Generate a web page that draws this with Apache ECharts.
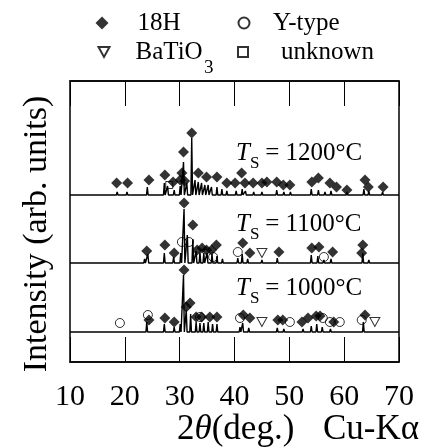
<!DOCTYPE html>
<html lang="en">
<head>
    <meta charset="UTF-8">
    <title>XRD patterns</title>
    <script src="https://cdn.jsdelivr.net/npm/echarts@6/dist/echarts.min.js"></script>
    <style>
        html, body {margin: 0; padding: 0; background: #fff;}
        #chart {width: 424px; height: 447px;}
    </style>
</head>
<body>
<div id="chart"></div>
<script>
    var xTicks = [10, 20, 30, 40, 50, 60, 70];
    var temps = ['1000', '1100', '1200'];
    // baseline of each pattern (arb. units)
    var baselines = [30, 99, 167];

    // [2theta, peak height above baseline]
    var peaks1000 = [[19.1,2],[24.0,10],[27.2,8],[29.0,5],[30.1,8],[30.7,57],[31.2,22],[32.0,18],[33.0,10],[33.7,9],[34.4,9],[35.2,10],[36.0,8],[36.8,8],[41.0,5],[41.5,9],[42.6,4],[45.0,2],[47.8,4],[49.0,3],[52.5,3],[54.0,6],[55.0,8],[56.0,5],[57.5,3],[63.5,10],[65.5,2]];
    var peaks1100 = [[23.6,4],[24.2,9],[27.2,10],[28.9,6],[30.2,10],[30.8,54],[31.4,28],[32.4,24],[33.0,12],[33.7,11],[34.4,10],[35.0,10],[35.9,9],[36.8,7],[37.8,4],[40.6,5],[41.4,9],[42.4,4],[45.0,3],[47.8,5],[50.5,2],[54.0,8],[55.2,7],[56.3,3],[57.6,4],[63.4,10],[64.5,3],[67.0,2]];
    var peaks1200 = [[18.6,3],[20.4,3],[24.1,8],[27.2,12],[27.8,9],[29.0,5],[30.1,9],[30.7,33],[31.3,12],[32.2,57],[32.8,15],[33.4,13],[34.0,12],[34.6,10],[35.2,10],[35.8,8],[36.8,8],[37.7,6],[38.6,4],[40.3,4],[41.4,6],[42.0,4],[43.5,3],[45.0,3],[47.7,5],[49.0,3],[50.2,3],[54.0,6],[55.3,5],[56.5,3],[57.6,4],[60.5,3],[63.6,6],[64.5,4],[67.0,3]];

    // phase markers [2theta, position]
    var mark18H = [
        [18.5,179],[20.5,179],[24.4,182],[27.3,187],[28.8,180],[30.1,182],[30.4,189],[30.7,210],[30.9,181],[32.2,229],[33.4,189],[34.9,185],[36.8,185],[38.6,179],[40.1,179],[41.3,189],[41.9,179],[43.4,179],[45.0,179],[45.9,180],[47.7,180],[48.9,177],[50.1,177],[54.1,180],[55.3,184],[57.4,179],[58.6,175],[60.5,172],[63.8,182],[64.4,175],[67.1,175],
        [24.0,111],[27.3,117],[29.0,109],[30.8,159],[32.4,137],[33.2,112],[34.1,114],[34.9,112],[35.8,112],[36.7,117],[41.5,119],[42.8,109],[48.1,110],[54.1,114],[55.4,115],[57.9,110],[63.2,109],[63.4,117],
        [24.4,42],[27.3,44],[29.0,40],[30.8,92],[31.2,55],[31.9,59],[33.0,45],[34.0,45],[35.5,45],[36.8,45],[41.6,47],[42.8,44],[47.9,42],[48.8,42],[52.3,40],[53.4,44],[54.9,46],[55.6,46],[58.1,40],[63.8,47]
    ];
    var markY = [
        [30.4,120],[31.7,120],[36.1,105],[40.6,110],[56.3,105],
        [19.1,39],[24.2,47],[33.7,45],[41.0,44],[50.1,40],[56.1,44],[57.4,40],[59.2,40],[63.2,42]
    ];
    var markBaTiO3 = [[45.0,109],[45.0,40],[65.6,40]];
    var markUnknown = [[28.1,177]];

    function buildTrace(base, peaks) {
        var pts = [[10, base]];
        for (var i = 0; i < peaks.length; i++) {
            var p = peaks[i];
            pts.push([p[0] - 0.15, base], [p[0], base + p[1]], [p[0] + 0.15, base]);
        }
        pts.push([70, base]);
        return pts;
    }

    var font = 'Liberation Serif';
    var hollow = {color: 'rgba(255,255,255,0)', borderColor: '#000', borderWidth: 1};

    var series = [];
    var allPeaks = [peaks1000, peaks1100, peaks1200];
    for (var k = 0; k < temps.length; k++) {
        series.push({
            name: 'T' + temps[k],
            type: 'line',
            showSymbol: false,
            silent: true,
            lineStyle: {color: '#000', width: 1.4},
            data: buildTrace(baselines[k], allPeaks[k])
        });
    }
    series.push(
        {name: '18H', type: 'scatter', symbol: 'diamond', symbolSize: 11, z: 5,
            itemStyle: {color: '#000'}, data: mark18H},
        {name: 'Y-type', type: 'scatter', symbol: 'circle', symbolSize: 9, z: 4,
            itemStyle: hollow, data: markY},
        {name: 'BaTiO3', type: 'scatter', symbol: 'path://M0,0L10,0L5,9Z', symbolSize: [10, 9], z: 4,
            itemStyle: hollow, data: markBaTiO3},
        {name: 'unknown', type: 'scatter', symbol: 'rect', symbolSize: 7, z: 4,
            itemStyle: hollow, data: markUnknown}
    );

    // one legend per entry so the two columns line up
    function legendAt(name, left, top, size, gap) {
        return {
            data: [name], left: left, top: top, padding: 0,
            itemWidth: size, itemHeight: size, selectedMode: false,
            formatter: function (n) { return n === 'BaTiO3' ? 'BaTiO' : n; },
            textStyle: {fontFamily: font, fontSize: 25, color: '#000', lineHeight: 26, padding: [0, 0, 0, gap]}
        };
    }

    function text(str, x, y, size, extra) {
        var st = {text: str, fontFamily: font, fontSize: size, fill: '#000', verticalAlign: 'middle'};
        for (var key in extra) { st[key] = extra[key]; }
        return {type: 'text', x: x, y: y, silent: true, style: st};
    }

    function tsLabel(t, y) {
        return [
            text('T', 236, y, 25, {fontStyle: 'italic'}),
            text('S', 250, y + 11, 17),
            text(' = ' + t + '°C', 259, y, 25)
        ];
    }

    var myChart = echarts.init(document.getElementById('chart'));

    var yTitle = text('Intensity (arb. units)', 37, 234, 34, {align: 'center'});
    yTitle.rotation = Math.PI / 2;

    var graphics = [].concat(
        tsLabel(temps[2], 153),
        tsLabel(temps[1], 224),
        tsLabel(temps[0], 288),
        [
            text('3', 204, 68, 19),
            yTitle,
            {
                type: 'text', x: 177, y: 430, silent: true,
                style: {
                    text: '{a|2}{i|θ}{a|(deg.)}',
                    verticalAlign: 'middle',
                    rich: {
                        a: {fontFamily: font, fontSize: 35, fill: '#000'},
                        i: {fontFamily: font, fontSize: 35, fontStyle: 'italic', fill: '#000'}
                    }
                }
            },
            text('Cu-Kα', 323, 430, 35)
        ]
    );

    var option = {
        animation: false,
        backgroundColor: '#fff',
        legend: [
            legendAt('18H', 95.5, 10, 13, 24),
            legendAt('Y-type', 237.5, 10, 11, 18.5),
            legendAt('BaTiO3', 97.5, 39, 11, 21),
            legendAt('unknown', 237, 39, 10, 28)
        ],
        grid: {left: 70, right: 25, top: 81, bottom: 85, outerBoundsMode: 'none',
            show: true, borderColor: '#000', borderWidth: 1.5},
        xAxis: [
            {
                type: 'value', position: 'bottom', min: xTicks[0], max: xTicks[xTicks.length - 1], interval: 10,
                axisLine: {lineStyle: {color: '#000', width: 1.5}},
                axisTick: {inside: true, length: 25, lineStyle: {color: '#000', width: 1}},
                axisLabel: {fontFamily: font, fontSize: 30, color: '#000', margin: 20},
                splitLine: {show: false}
            },
            {
                type: 'value', position: 'top', min: xTicks[0], max: xTicks[xTicks.length - 1], interval: 10,
                axisLine: {lineStyle: {color: '#000', width: 1.5}},
                axisTick: {inside: true, length: 25, lineStyle: {color: '#000', width: 1}},
                axisLabel: {show: false},
                splitLine: {show: false}
            }
        ],
        yAxis: {
            type: 'value', min: 0, max: 281, show: false
        },
        graphic: graphics,
        series: series
    };

    myChart.setOption(option);
</script>
</body>
</html>
